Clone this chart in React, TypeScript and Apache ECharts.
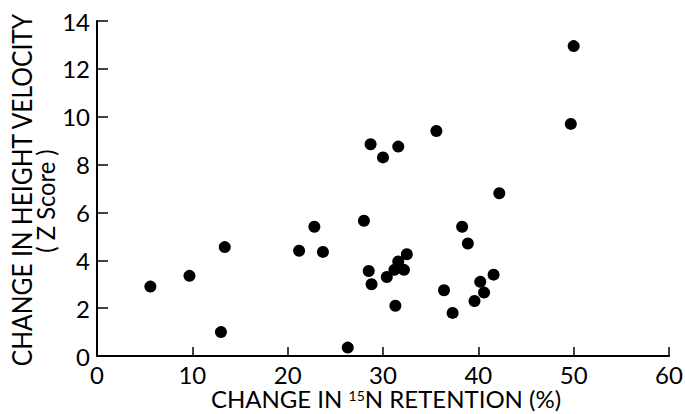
import React, { useEffect, useRef } from "react";
import * as echarts from "echarts";

const retention: number[] = [5.6, 9.7, 13.4, 13.0, 21.2, 22.8, 23.7, 26.3, 28.0, 28.7, 30.0, 31.6, 35.6, 28.5, 28.8, 30.4, 31.6, 31.2, 32.2, 32.5, 31.3, 36.4, 42.2, 38.3, 38.9, 37.3, 39.6, 40.2, 40.6, 41.6, 49.7, 50.0];
const velocity: number[] = [2.9, 3.35, 4.55, 1.0, 4.4, 5.4, 4.35, 0.35, 5.65, 8.85, 8.3, 8.75, 9.4, 3.55, 3.0, 3.3, 3.95, 3.6, 3.6, 4.25, 2.1, 2.75, 6.8, 5.4, 4.7, 1.8, 2.3, 3.1, 2.65, 3.4, 9.7, 12.95];
const xTicks = [0, 10, 20, 30, 40, 50, 60];
const yTicks = [0, 2, 4, 6, 8, 10, 12, 14];
const yTitle = "CHANGE IN HEIGHT VELOCITY";
const ySubTitle = "( Z Score )";
const xTitle = "CHANGE IN {sup|15}N RETENTION (%)";

const FONT = "Lato";

export default function App() {
  const ref = useRef<HTMLDivElement>(null);
  useEffect(() => {
    if (!ref.current) return;
    const chart = echarts.init(ref.current, undefined, { renderer: "svg" });
    const data = retention.map((x, i) => [x, velocity[i]]);
    chart.setOption({
      animation: false,
      backgroundColor: "#fff",
      grid: { left: 97, right: 16, top: 21, bottom: 58, outerBoundsMode: "none" },
      xAxis: {
        type: "value",
        min: xTicks[0],
        max: xTicks[xTicks.length - 1],
        interval: 10,
        splitLine: { show: false },
        axisLine: { show: true, lineStyle: { color: "#000", width: 2 } },
        axisTick: { show: true, inside: true, length: 9, lineStyle: { color: "#000", width: 1.5 } },
        axisLabel: { color: "#000", fontSize: 24, lineHeight: 20, fontFamily: FONT, margin: 8, showMaxLabel: true, hideOverlap: false },
        name: xTitle,
        nameLocation: "middle",
        nameGap: 32,
        nameMoveOverlap: false,
        nameTextStyle: {
          color: "#000",
          fontSize: 24,
          lineHeight: 20,
          fontFamily: FONT,
          padding: [0, 0, 0, 6],
          rich: { sup: { fontSize: 14, lineHeight: 14, verticalAlign: "top", padding: [0, 0, 6, 0], color: "#000", fontFamily: FONT } },
        },
      },
      yAxis: {
        type: "value",
        min: yTicks[0],
        max: yTicks[yTicks.length - 1],
        interval: 2,
        splitLine: { show: false },
        axisLine: { show: true, lineStyle: { color: "#000", width: 2 } },
        axisTick: { show: true, inside: true, length: 11, lineStyle: { color: "#000", width: 1.5 } },
        axisLabel: { color: "#000", fontSize: 24, fontFamily: FONT, margin: 7 },
      },
      graphic: [
        {
          type: "text",
          x: 8,
          y: 190,
          rotation: Math.PI / 2,
          scaleX: 1.07,
          scaleY: 1.18,
          style: {
            text: yTitle,
            font: `23px ${FONT}`,
            fill: "#000",
            align: "center",
            verticalAlign: "top",
          },
        },
        {
          type: "text",
          x: 33,
          y: 201,
          rotation: Math.PI / 2,
          scaleX: 1.08,
          scaleY: 1.1,
          style: {
            text: ySubTitle,
            font: `22px ${FONT}`,
            fill: "#000",
            align: "center",
            verticalAlign: "top",
          },
        },
      ],
      series: [
        {
          type: "scatter",
          data,
          symbol: "circle",
          symbolSize: 12,
          itemStyle: { color: "#000", opacity: 1 },
        },
      ],
    });
    return () => chart.dispose();
  }, []);
  return <div ref={ref} style={{ position: "absolute", left: 0, top: 0, width: 685, height: 414 }} />;
}
